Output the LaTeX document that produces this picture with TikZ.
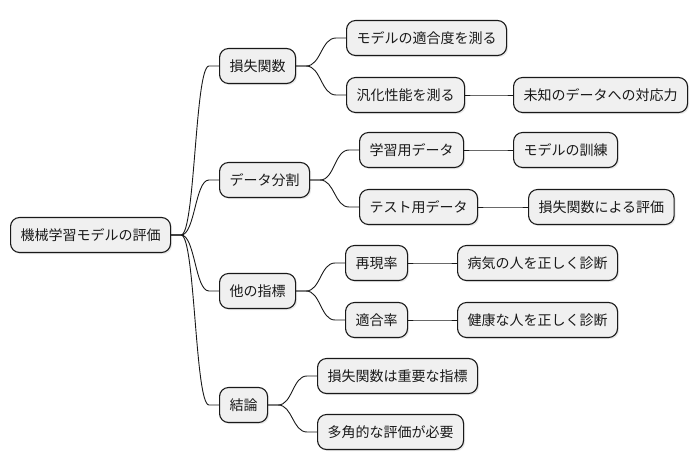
\documentclass[tikz,border=0pt]{standalone}
\usepackage{fontspec}
\setmainfont{Noto Sans CJK JP}
\usetikzlibrary{calc,shadows}
\tikzset{
  mmbox/.style={draw=black!90, line width=1.1pt, fill=black!6, rounded corners=9pt,
    minimum height=35pt, inner xsep=10pt, inner ysep=0pt, anchor=west,
    font=\fontsize{14pt}{16pt}\selectfont, text=black!90,
    drop shadow={opacity=0.18, shadow xshift=1.5pt, shadow yshift=-1.5pt}},
  conn/.style={draw=black!90, line width=0.9pt}
}
\newcommand\mmconn[2]{%
  \path (#1.east) ++(10pt,0) coordinate (#1-#2-s);
  \path (#2.west) ++(-10pt,0) coordinate (#1-#2-e);
  \draw[conn] (#1.east) -- (#1-#2-s)
    let \p1=(#1-#2-s), \p2=(#1-#2-e) in
    .. controls ({(\x1+\x2)/2},\y1) and ({(\x1+\x2)/2},\y2) .. (#1-#2-e)
    -- (#2.west);}
\begin{document}
\begin{tikzpicture}[x=1pt,y=-1pt]
\useasboundingbox (0,0) rectangle (698,471);
\node[mmbox] (root) at (10,235) {機械学習モデルの評価};
\node[mmbox] (a) at (219,66) {損失関数};
\node[mmbox] (a1) at (346,38) {モデルの適合度を測る};
\node[mmbox] (a2) at (346,95) {汎化性能を測る};
\node[mmbox] (a21) at (513,95) {未知のデータへの対応力};
\node[mmbox] (b) at (219,180) {データ分割};
\node[mmbox] (b1) at (359,150) {学習用データ};
\node[mmbox] (b11) at (513,150) {モデルの訓練};
\node[mmbox] (b2) at (359,207) {テスト用データ};
\node[mmbox] (b21) at (528,207) {損失関数による評価};
\node[mmbox] (c) at (219,291) {他の指標};
\node[mmbox] (c1) at (345,263) {再現率};
\node[mmbox] (c11) at (457,263) {病気の人を正しく診断};
\node[mmbox] (c2) at (345,320) {適合率};
\node[mmbox] (c21) at (457,320) {健康な人を正しく診断};
\node[mmbox] (d) at (219,405) {結論};
\node[mmbox] (d1) at (317,376) {損失関数は重要な指標};
\node[mmbox] (d2) at (317,432) {多角的な評価が必要};
\mmconn{root}{a}
\mmconn{root}{b}
\mmconn{root}{c}
\mmconn{root}{d}
\mmconn{a}{a1}
\mmconn{a}{a2}
\mmconn{a2}{a21}
\mmconn{b}{b1}
\mmconn{b}{b2}
\mmconn{b1}{b11}
\mmconn{b2}{b21}
\mmconn{c}{c1}
\mmconn{c}{c2}
\mmconn{c1}{c11}
\mmconn{c2}{c21}
\mmconn{d}{d1}
\mmconn{d}{d2}
\end{tikzpicture}
\end{document}
